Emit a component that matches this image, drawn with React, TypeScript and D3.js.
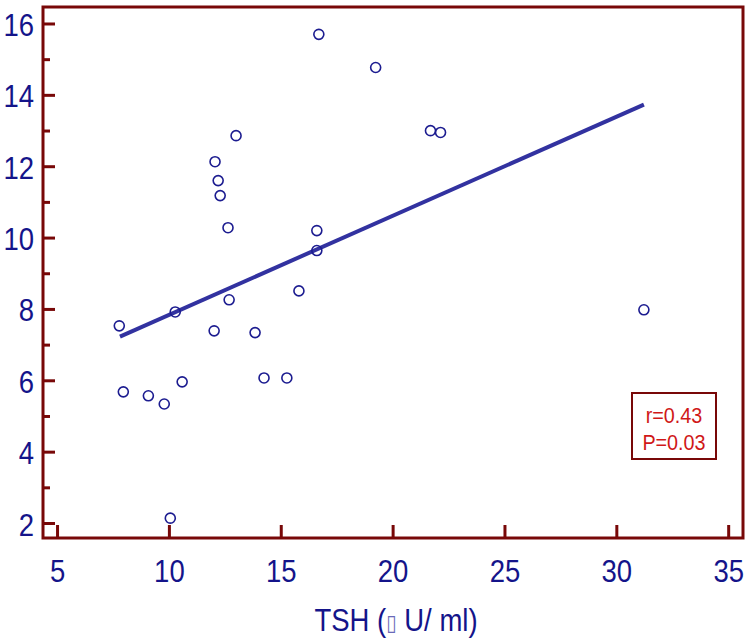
import React from "react";
import * as d3 from "d3";

const tsh = [7.76, 7.94, 9.06, 9.77, 10.26, 10.57, 10.04, 12.04, 12.18, 12.27, 12.98, 12.62, 12.67, 12.0, 13.83, 14.23, 15.25, 15.79, 16.59, 16.59, 16.68, 19.22, 21.67, 22.12, 31.21];
const yVal = [7.54, 5.69, 5.58, 5.35, 7.93, 5.97, 2.15, 12.14, 11.61, 11.19, 12.87, 10.29, 8.27, 7.40, 7.35, 6.08, 6.08, 8.52, 10.21, 9.65, 15.71, 14.78, 13.01, 12.96, 7.99];
const xTicks = [5, 10, 15, 20, 25, 30, 35];
const yMajor = [2, 4, 6, 8, 10, 12, 14, 16];
const yMinor = [3, 5, 7, 9, 11, 13, 15];
const fitLine = [
  { x: 7.79, y: 7.24 },
  { x: 31.21, y: 13.74 },
];
const statLines = ["r=0.43", "P=0.03"];
const xLabelParts = ["TSH (", "\u25AF", " U/ ml)"];

const frameColor = "#780808";
const tickColor = "#14148a";
const font = "'Liberation Sans', Arial, sans-serif";

export default function App() {
  const left = 43, right = 743, top = 7, bottom = 538;
  const x = d3.scaleLinear().domain([4.35, 35.64]).range([left, right]);
  const y = d3.scaleLinear().domain([1.594, 16.476]).range([bottom, top]);
  const line = d3.line<{ x: number; y: number }>().x((d) => x(d.x)).y((d) => y(d.y));

  return (
    <svg width={750} height={643} style={{ position: "absolute", left: 0, top: 0, background: "#fff" }} fontFamily={font}>
      <rect x={0} y={0} width={750} height={643} fill="#fff" />
      <rect x={left} y={top} width={right - left} height={bottom - top} fill="none" stroke={frameColor} strokeWidth={3} />
      {yMajor.map((v) => (
        <g key={"ym" + v}>
          <line x1={left} x2={left + 12} y1={y(v)} y2={y(v)} stroke={frameColor} strokeWidth={3} />
          <text transform={`translate(${left - 9},${y(v) + 12}) scale(0.86,1)`} textAnchor="end" fontSize={32} fill={tickColor}>
            {v}
          </text>
        </g>
      ))}
      {yMinor.map((v) => (
        <line key={"yn" + v} x1={left} x2={left + 7} y1={y(v)} y2={y(v)} stroke={frameColor} strokeWidth={3} />
      ))}
      {xTicks.map((v) => (
        <g key={"x" + v}>
          <line x1={x(v)} x2={x(v)} y1={bottom} y2={bottom - 13} stroke={frameColor} strokeWidth={3} />
          <text transform={`translate(${x(v)},${582}) scale(0.86,1)`} textAnchor="middle" fontSize={32} fill={tickColor}>
            {v}
          </text>
        </g>
      ))}
      <text transform={`translate(${(left + right) / 2 + 3},631) scale(0.86,1)`} textAnchor="middle" fontSize={32} fill={tickColor}>
        {xLabelParts[0]}
        <tspan fontSize={22} fill="#6a6ab8" fontFamily="'DejaVu Sans'" dy={-1}>{xLabelParts[1]}</tspan>
        <tspan dy={1}>{xLabelParts[2]}</tspan>
      </text>
      <path d={line(fitLine) || ""} fill="none" stroke="#3232a0" strokeWidth={4} />
      {tsh.map((v, i) => (
        <circle key={i} cx={x(v)} cy={y(yVal[i])} r={5} fill="none" stroke="#1c1c90" strokeWidth={1.6} />
      ))}
      <rect x={632} y={393} width={84} height={66} fill="#fff" stroke={frameColor} strokeWidth={2} />
      {statLines.map((s, i) => (
        <text key={s} transform={`translate(674,${423 + i * 26.5}) scale(0.9,1)`} textAnchor="middle" fontSize={22} fill="#d01818">
          {s}
        </text>
      ))}
    </svg>
  );
}
